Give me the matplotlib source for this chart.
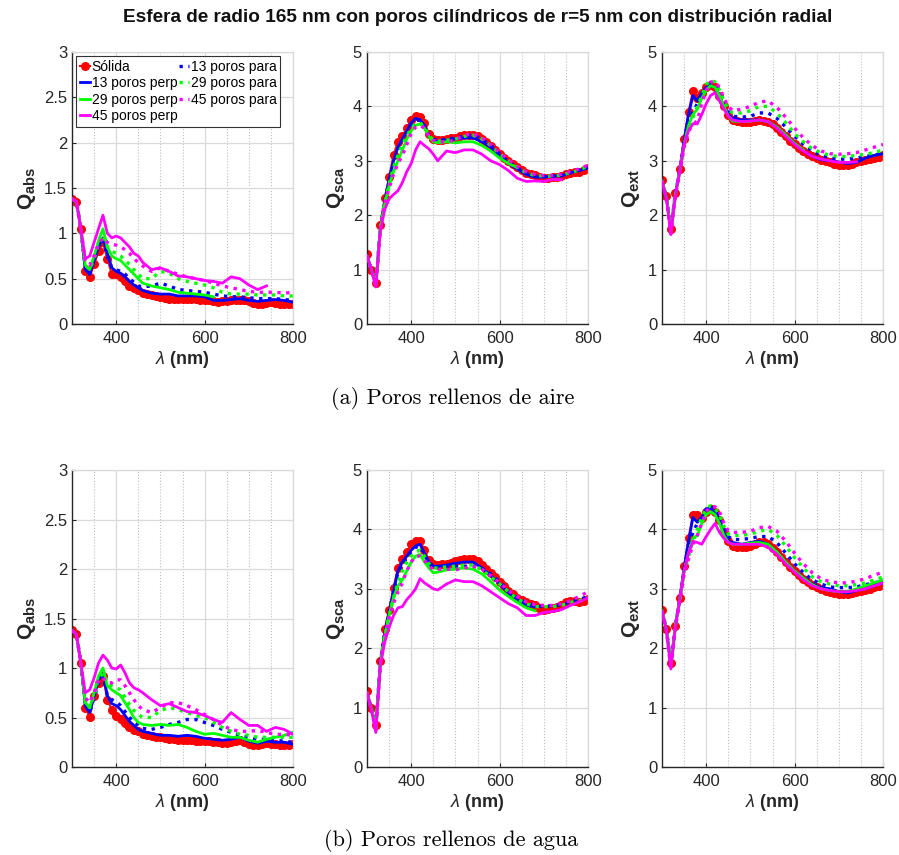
import numpy as np
import matplotlib
matplotlib.use('Agg')
import matplotlib.pyplot as plt
from matplotlib.ticker import MultipleLocator, FixedLocator, FuncFormatter

plt.rcParams['font.family'] = ['Liberation Sans', 'DejaVu Sans']
plt.rcParams['mathtext.fontset'] = 'custom'
plt.rcParams['mathtext.rm'] = 'Liberation Sans'
plt.rcParams['mathtext.bf'] = 'Liberation Sans:bold'
plt.rcParams['mathtext.it'] = 'Liberation Sans:italic'

# wavelength grid (nm) for the porous spheres: 10 nm steps up to 450, then 20 nm steps
wl = [300, 310, 320, 330, 340, 350, 360, 370, 380, 390, 400, 410, 420, 430, 440, 450,
      460, 480, 500, 520, 540, 560, 580, 600, 620, 640, 660, 680, 700, 720, 740, 760, 780, 800]
# the solid sphere is sampled every 10 nm
wl_sol = list(range(300, 801, 10))

names = ['Sólida', '13 poros para', '13 poros perp', '29 poros para',
         '29 poros perp', '45 poros para', '45 poros perp']

# ---------------- (a) pores filled with air ----------------
air_abs = {
    'Sólida': [1.38, 1.35, 1.05, 0.58, 0.52, 0.66, 0.80, 0.90, 0.72, 0.55, 0.55, 0.52, 0.47, 0.42, 0.40, 0.37,
               0.34, 0.33, 0.32, 0.31, 0.30, 0.29, 0.28, 0.28, 0.28, 0.28, 0.28, 0.28, 0.28, 0.27, 0.27,
               0.26, 0.25, 0.24, 0.25, 0.25, 0.26, 0.26, 0.26, 0.26, 0.25, 0.23, 0.22, 0.22, 0.23, 0.24,
               0.23, 0.22, 0.22, 0.22, 0.22],
    '13 poros perp': [1.38, 1.35, 1.05, 0.60, 0.55, 0.70, 0.85, 0.95, 0.78, 0.62, 0.58, 0.56, 0.52, 0.47, 0.43, 0.40,
                      0.37, 0.34, 0.33, 0.33, 0.31, 0.31, 0.31, 0.30, 0.26, 0.26, 0.27, 0.28, 0.26, 0.25, 0.26, 0.27, 0.26, 0.24],
    '13 poros para': [1.38, 1.35, 1.05, 0.62, 0.55, 0.70, 0.85, 0.92, 0.75, 0.62, 0.60, 0.58, 0.55, 0.50, 0.46, 0.42,
                      0.41, 0.42, 0.45, 0.42, 0.38, 0.37, 0.36, 0.35, 0.33, 0.31, 0.30, 0.30, 0.29, 0.28, 0.28, 0.28, 0.27, 0.26],
    '29 poros perp': [1.38, 1.35, 1.05, 0.65, 0.60, 0.75, 0.92, 1.05, 0.85, 0.75, 0.72, 0.70, 0.65, 0.60, 0.55, 0.50,
                      0.45, 0.42, 0.40, 0.38, 0.35, 0.34, 0.33, 0.32, 0.30],
    '29 poros para': [1.38, 1.35, 1.05, 0.65, 0.60, 0.72, 0.88, 0.98, 0.85, 0.80, 0.78, 0.75, 0.70, 0.66, 0.60, 0.55,
                      0.50, 0.50, 0.58, 0.56, 0.50, 0.47, 0.45, 0.43, 0.40, 0.35, 0.33, 0.33, 0.33, 0.32, 0.32, 0.32, 0.31, 0.31],
    '45 poros perp': [1.38, 1.35, 1.05, 0.72, 0.75, 0.90, 1.05, 1.20, 1.00, 0.95, 0.97, 0.95, 0.90, 0.85, 0.78, 0.75,
                      0.68, 0.60, 0.62, 0.58, 0.53, 0.52, 0.50, 0.48, 0.47, 0.45, 0.52, 0.50, 0.43, 0.38, 0.42],
    '45 poros para': [1.38, 1.35, 1.05, 0.70, 0.65, 0.75, 0.88, 0.95, 0.90, 0.88, 0.87, 0.85, 0.82, 0.78, 0.72, 0.68,
                      0.64, 0.58, 0.62, 0.58, 0.55, 0.52, 0.50, 0.48, 0.45, 0.42, 0.40, 0.38, 0.36, 0.35, 0.35, 0.35, 0.34, 0.35],
}

air_sca = {
    'Sólida': [1.28, 1.00, 0.75, 1.82, 2.32, 2.70, 3.10, 3.35, 3.45, 3.60, 3.75, 3.82, 3.80, 3.70, 3.50, 3.40,
               3.38, 3.39, 3.40, 3.41, 3.42, 3.45, 3.47, 3.48, 3.48, 3.45, 3.40, 3.35, 3.28, 3.20, 3.12,
               3.06, 3.00, 2.94, 2.88, 2.83, 2.78, 2.75, 2.73, 2.70, 2.68, 2.69, 2.70, 2.71, 2.72, 2.75,
               2.78, 2.79, 2.80, 2.83, 2.87],
    '13 poros perp': [1.25, 1.00, 0.72, 1.75, 2.25, 2.65, 3.00, 3.25, 3.40, 3.55, 3.70, 3.78, 3.75, 3.65, 3.45, 3.38,
                      3.35, 3.38, 3.40, 3.42, 3.42, 3.35, 3.25, 3.10, 2.95, 2.85, 2.75, 2.70, 2.70, 2.72, 2.72, 2.78, 2.82, 2.87],
    '13 poros para': [1.25, 1.00, 0.72, 1.75, 2.25, 2.62, 2.95, 3.20, 3.38, 3.52, 3.66, 3.74, 3.75, 3.65, 3.47, 3.40,
                      3.37, 3.40, 3.42, 3.45, 3.48, 3.40, 3.28, 3.13, 2.98, 2.87, 2.77, 2.72, 2.71, 2.72, 2.73, 2.78, 2.83, 2.88],
    '29 poros perp': [1.25, 1.00, 0.72, 1.75, 2.20, 2.55, 2.80, 3.00, 3.20, 3.40, 3.55, 3.65, 3.68, 3.60, 3.45, 3.35,
                      3.33, 3.35, 3.33, 3.35, 3.35, 3.28, 3.18, 3.05, 2.95, 2.88],
    '29 poros para': [1.25, 1.00, 0.72, 1.75, 2.22, 2.58, 2.88, 3.10, 3.30, 3.45, 3.60, 3.68, 3.70, 3.62, 3.47, 3.38,
                      3.36, 3.38, 3.40, 3.45, 3.47, 3.40, 3.28, 3.13, 3.00, 2.88, 2.78, 2.73, 2.72, 2.72, 2.74, 2.78, 2.83, 2.90],
    '45 poros perp': [1.25, 1.00, 0.68, 1.70, 2.10, 2.30, 2.38, 2.45, 2.60, 2.80, 2.95, 3.20, 3.35, 3.28, 3.22, 3.12,
                      3.00, 3.18, 3.15, 3.20, 3.20, 3.12, 3.00, 2.93, 2.82, 2.68, 2.62, 2.63, 2.62, 2.66, 2.65],
    '45 poros para': [1.25, 1.00, 0.70, 1.72, 2.20, 2.50, 2.75, 2.95, 3.10, 3.30, 3.50, 3.62, 3.65, 3.60, 3.45, 3.38,
                      3.35, 3.35, 3.38, 3.47, 3.50, 3.42, 3.30, 3.15, 3.02, 2.90, 2.80, 2.75, 2.73, 2.73, 2.75, 2.80, 2.85, 2.92],
}

air_ext = {
    'Sólida': [2.65, 2.35, 1.75, 2.40, 2.85, 3.40, 3.90, 4.28, 4.15, 4.25, 4.35, 4.40, 4.35, 4.20, 4.00, 3.85,
               3.75, 3.73, 3.72, 3.72, 3.72, 3.74, 3.75, 3.74, 3.72, 3.67, 3.60, 3.53, 3.45, 3.37, 3.30,
               3.24, 3.18, 3.13, 3.08, 3.05, 3.02, 2.99, 2.97, 2.95, 2.93, 2.92, 2.93, 2.95, 2.97, 3.00,
               3.02, 3.03, 3.05, 3.07, 3.10],
    '13 poros perp': [2.63, 2.33, 1.72, 2.38, 2.83, 3.38, 3.85, 4.20, 4.10, 4.25, 4.35, 4.38, 4.35, 4.20, 4.00, 3.85,
                      3.78, 3.75, 3.75, 3.75, 3.72, 3.62, 3.48, 3.32, 3.18, 3.08, 3.02, 3.00, 2.98, 2.95, 2.97, 3.05, 3.10, 3.13],
    '13 poros para': [2.63, 2.33, 1.72, 2.38, 2.80, 3.30, 3.70, 3.90, 4.05, 4.20, 4.35, 4.42, 4.40, 4.25, 4.05, 3.90,
                      3.82, 3.80, 3.82, 3.88, 3.88, 3.78, 3.62, 3.45, 3.30, 3.18, 3.10, 3.05, 3.03, 3.03, 3.05, 3.08, 3.10, 3.15],
    '29 poros perp': [2.63, 2.33, 1.70, 2.37, 2.80, 3.30, 3.65, 3.85, 3.95, 4.15, 4.30, 4.38, 4.35, 4.20, 4.00, 3.82,
                      3.73, 3.72, 3.73, 3.75, 3.72, 3.62, 3.48, 3.32, 3.20],
    '29 poros para': [2.63, 2.33, 1.70, 2.37, 2.80, 3.28, 3.60, 3.80, 4.00, 4.20, 4.40, 4.48, 4.45, 4.30, 4.10, 3.95,
                      3.88, 3.88, 3.92, 4.00, 4.00, 3.88, 3.70, 3.50, 3.35, 3.22, 3.15, 3.10, 3.08, 3.08, 3.10, 3.12, 3.15, 3.20],
    '45 poros perp': [2.62, 2.30, 1.65, 2.35, 2.80, 3.30, 3.55, 3.68, 3.68, 3.85, 4.05, 4.20, 4.25, 4.10, 3.95, 3.82,
                      3.75, 3.72, 3.73, 3.75, 3.72, 3.60, 3.45, 3.30, 3.18, 3.08, 3.03, 3.00, 2.97, 2.97, 2.98],
    '45 poros para': [2.62, 2.30, 1.65, 2.35, 2.78, 3.25, 3.55, 3.65, 3.75, 4.05, 4.30, 4.45, 4.45, 4.35, 4.15, 4.00,
                      3.92, 3.95, 4.00, 4.08, 4.10, 3.98, 3.80, 3.60, 3.42, 3.28, 3.18, 3.13, 3.12, 3.13, 3.15, 3.20, 3.25, 3.30],
}

# ---------------- (b) pores filled with water ----------------
wat_abs = {
    'Sólida': [1.38, 1.34, 1.05, 0.60, 0.51, 0.72, 0.85, 0.92, 0.68, 0.58, 0.52, 0.48, 0.44, 0.40, 0.37, 0.36,
               0.33, 0.32, 0.31, 0.30, 0.30, 0.29, 0.28, 0.28, 0.27, 0.27, 0.27, 0.27, 0.26, 0.26, 0.26,
               0.26, 0.25, 0.25, 0.24, 0.24, 0.25, 0.26, 0.27, 0.25, 0.23, 0.22, 0.22, 0.23, 0.24, 0.23,
               0.23, 0.22, 0.22, 0.22, 0.23],
    '13 poros perp': [1.38, 1.34, 1.05, 0.62, 0.55, 0.72, 0.88, 0.95, 0.72, 0.64, 0.62, 0.58, 0.52, 0.46, 0.42, 0.38,
                      0.36, 0.34, 0.32, 0.32, 0.31, 0.32, 0.31, 0.29, 0.28, 0.27, 0.28, 0.30, 0.26, 0.24, 0.26, 0.25, 0.25, 0.23],
    '13 poros para': [1.38, 1.34, 1.05, 0.62, 0.55, 0.70, 0.85, 0.92, 0.72, 0.68, 0.66, 0.62, 0.56, 0.50, 0.46, 0.42,
                      0.39, 0.38, 0.40, 0.43, 0.45, 0.48, 0.48, 0.45, 0.42, 0.38, 0.35, 0.32, 0.30, 0.28, 0.28, 0.27, 0.26, 0.25],
    '29 poros perp': [1.38, 1.34, 1.05, 0.65, 0.60, 0.75, 0.92, 1.00, 0.82, 0.78, 0.75, 0.72, 0.65, 0.58, 0.50, 0.45,
                      0.43, 0.42, 0.43, 0.42, 0.43, 0.40, 0.36, 0.33, 0.34, 0.32, 0.30, 0.30, 0.27, 0.25, 0.28, 0.30, 0.32, 0.35],
    '29 poros para': [1.38, 1.34, 1.05, 0.65, 0.60, 0.72, 0.88, 0.95, 0.85, 0.82, 0.80, 0.78, 0.70, 0.63, 0.57, 0.53,
                      0.50, 0.50, 0.57, 0.60, 0.58, 0.55, 0.52, 0.50, 0.45, 0.40, 0.36, 0.33, 0.32, 0.30, 0.30, 0.30, 0.30, 0.30],
    '45 poros perp': [1.38, 1.34, 1.05, 0.75, 0.78, 0.90, 1.05, 1.13, 1.08, 1.00, 0.99, 1.03, 0.95, 0.85, 0.80, 0.78,
                      0.75, 0.68, 0.62, 0.64, 0.60, 0.56, 0.55, 0.52, 0.48, 0.45, 0.55, 0.48, 0.42, 0.42, 0.36, 0.40, 0.38, 0.33],
    '45 poros para': [1.38, 1.34, 1.05, 0.70, 0.65, 0.75, 0.88, 0.90, 0.85, 0.85, 0.88, 0.88, 0.82, 0.75, 0.68, 0.62,
                      0.58, 0.55, 0.60, 0.65, 0.65, 0.62, 0.58, 0.53, 0.48, 0.42, 0.38, 0.36, 0.36, 0.37, 0.35, 0.33, 0.33, 0.32],
}

wat_sca = {
    'Sólida': [1.28, 1.00, 0.70, 1.78, 2.32, 2.65, 3.02, 3.35, 3.50, 3.62, 3.75, 3.80, 3.80, 3.65, 3.48, 3.42,
               3.40, 3.41, 3.42, 3.44, 3.47, 3.49, 3.50, 3.51, 3.50, 3.46, 3.40, 3.34, 3.27, 3.20, 3.12,
               3.05, 2.97, 2.91, 2.85, 2.81, 2.77, 2.74, 2.72, 2.68, 2.65, 2.66, 2.68, 2.70, 2.72, 2.78,
               2.80, 2.79, 2.78, 2.80, 2.83],
    '13 poros perp': [1.25, 0.98, 0.68, 1.75, 2.25, 2.60, 2.95, 3.30, 3.45, 3.55, 3.65, 3.72, 3.75, 3.60, 3.45, 3.38,
                      3.38, 3.40, 3.43, 3.45, 3.45, 3.35, 3.22, 3.08, 2.93, 2.82, 2.72, 2.70],
    '13 poros para': [1.25, 0.98, 0.68, 1.75, 2.25, 2.60, 2.95, 3.28, 3.42, 3.52, 3.62, 3.70, 3.72, 3.58, 3.42, 3.36,
                      3.36, 3.37, 3.38, 3.38, 3.38, 3.35, 3.25, 3.12, 2.97, 2.85, 2.77, 2.72, 2.70, 2.72, 2.73, 2.78, 2.82, 2.87],
    '29 poros perp': [1.25, 0.98, 0.66, 1.72, 2.20, 2.55, 2.85, 3.05, 3.15, 3.30, 3.45, 3.55, 3.58, 3.45, 3.35, 3.27,
                      3.28, 3.32, 3.33, 3.35, 3.33, 3.25, 3.12, 2.98, 2.87, 2.77, 2.68, 2.63],
    '29 poros para': [1.25, 0.98, 0.66, 1.72, 2.20, 2.55, 2.85, 3.10, 3.30, 3.45, 3.55, 3.62, 3.65, 3.55, 3.42, 3.35,
                      3.35, 3.37, 3.38, 3.40, 3.40, 3.32, 3.20, 3.08, 2.95, 2.83, 2.75, 2.70, 2.70, 2.70, 2.72, 2.77, 2.80, 2.85],
    '45 poros perp': [1.25, 0.95, 0.58, 1.70, 2.10, 2.35, 2.55, 2.68, 2.70, 2.82, 2.90, 3.00, 3.17, 3.10, 3.05, 3.00,
                      2.98, 3.08, 3.15, 3.12, 3.12, 3.05, 2.95, 2.85, 2.75, 2.68, 2.55, 2.55, 2.60, 2.62, 2.65, 2.72, 2.78, 2.85],
    '45 poros para': [1.25, 0.97, 0.62, 1.72, 2.18, 2.50, 2.75, 2.95, 3.10, 3.30, 3.45, 3.55, 3.55, 3.48, 3.38, 3.33,
                      3.33, 3.33, 3.32, 3.35, 3.38, 3.33, 3.22, 3.10, 2.97, 2.87, 2.78, 2.73, 2.72, 2.72, 2.75, 2.80, 2.87, 2.95],
}

wat_ext = {
    'Sólida': [2.65, 2.33, 1.75, 2.38, 2.85, 3.38, 3.85, 4.25, 4.25, 4.20, 4.30, 4.35, 4.30, 4.15, 3.95, 3.80,
               3.72, 3.71, 3.70, 3.71, 3.72, 3.75, 3.78, 3.78, 3.75, 3.69, 3.62, 3.54, 3.45, 3.37, 3.30,
               3.23, 3.17, 3.12, 3.07, 3.03, 3.00, 2.97, 2.95, 2.93, 2.92, 2.91, 2.92, 2.93, 2.95, 2.97,
               2.98, 3.00, 3.03, 3.05, 3.07],
    '13 poros perp': [2.63, 2.32, 1.72, 2.37, 2.83, 3.35, 3.80, 4.20, 4.12, 4.20, 4.35, 4.35, 4.30, 4.15, 3.95, 3.80,
                      3.78, 3.75, 3.78, 3.80, 3.75, 3.62, 3.45, 3.30, 3.18, 3.08, 3.02, 3.00, 2.95, 2.93, 2.97, 3.00, 3.05, 3.10],
    '13 poros para': [2.63, 2.32, 1.72, 2.37, 2.80, 3.30, 3.70, 3.95, 4.10, 4.20, 4.35, 4.38, 4.32, 4.20, 4.00, 3.88,
                      3.83, 3.83, 3.85, 3.88, 3.88, 3.78, 3.60, 3.42, 3.27, 3.15, 3.08, 3.03, 3.02, 3.02, 3.03, 3.07, 3.10, 3.13],
    '29 poros perp': [2.63, 2.32, 1.70, 2.37, 2.80, 3.30, 3.60, 3.85, 3.90, 4.10, 4.25, 4.30, 4.25, 4.10, 3.90, 3.78,
                      3.75, 3.75, 3.77, 3.78, 3.75, 3.62, 3.45, 3.30, 3.18, 3.07, 3.00, 2.97, 2.95, 2.95, 3.00, 3.05, 3.10, 3.15],
    '29 poros para': [2.63, 2.32, 1.70, 2.37, 2.80, 3.28, 3.55, 3.80, 4.00, 4.20, 4.35, 4.40, 4.35, 4.25, 4.05, 3.92,
                      3.90, 3.90, 3.92, 3.97, 4.00, 3.90, 3.72, 3.52, 3.35, 3.20, 3.12, 3.08, 3.05, 3.05, 3.07, 3.10, 3.15, 3.20],
    '45 poros perp': [2.62, 2.30, 1.65, 2.35, 2.80, 3.30, 3.60, 3.80, 3.78, 3.75, 3.88, 4.00, 4.10, 3.95, 3.85, 3.78,
                      3.75, 3.75, 3.75, 3.75, 3.70, 3.58, 3.42, 3.28, 3.15, 3.05, 3.00, 2.97, 2.95, 2.95, 2.97, 3.00, 3.05, 3.10],
    '45 poros para': [2.62, 2.30, 1.65, 2.35, 2.78, 3.25, 3.50, 3.75, 3.90, 4.10, 4.30, 4.38, 4.38, 4.30, 4.10, 3.98,
                      3.95, 3.95, 3.97, 4.03, 4.05, 3.97, 3.80, 3.60, 3.42, 3.27, 3.17, 3.12, 3.10, 3.10, 3.13, 3.17, 3.23, 3.28],
}

colors = {'13': '#0000ff', '29': '#00ff00', '45': '#ff00ff'}
grid_c = '#d9d9d9'
axis_c = '#262626'


def draw_panel(ax, data, ymax, ystep, ylab, legend=False):
    handles = {}
    for name in names:
        vals = data[name]
        if name == 'Sólida':
            h, = ax.plot(wl_sol[:len(vals)], vals, '-o', color='#ff0000', lw=1.5, ms=5.5,
                         mec='#ff0000', mfc='#ff0000', label=name, zorder=2)
        else:
            c = colors[name.split()[0]]
            ls = ':' if name.endswith('para') else '-'
            lw = 2.4 if ls == ':' else 2.0
            h, = ax.plot(wl[:len(vals)], vals, ls, color=c, lw=lw, label=name, zorder=3)
        handles[name] = h

    ax.set_xlim(300, 800)
    ax.set_ylim(0, ymax)
    ax.xaxis.set_major_locator(FixedLocator([400, 600, 800]))
    ax.xaxis.set_minor_locator(FixedLocator([350, 450, 500, 550, 650, 700, 750]))
    ax.yaxis.set_major_locator(MultipleLocator(ystep))
    ax.yaxis.set_major_formatter(FuncFormatter(lambda v, p: '%g' % v))
    ax.grid(True, which='major', color=grid_c, lw=0.9, ls='-')
    ax.grid(True, which='minor', axis='x', color='#bfbfbf', lw=0.8, ls=':')
    ax.set_axisbelow(True)
    ax.tick_params(which='both', direction='in', labelsize=12, colors=axis_c,
                   length=3, width=0.8)
    ax.tick_params(which='minor', length=0)
    ax.tick_params(axis='x', pad=5)
    for s in ['left', 'bottom']:
        ax.spines[s].set_color(axis_c)
        ax.spines[s].set_linewidth(1.0)
    for s in ['top', 'right']:
        ax.spines[s].set_color(grid_c)
        ax.spines[s].set_linewidth(0.9)
    ax.set_xlabel(r'$\mathit{\lambda}$ (nm)', fontsize=13, fontweight='bold', color=axis_c, labelpad=2)
    ax.set_ylabel(ylab, fontsize=15, color=axis_c, labelpad=4)

    if legend:
        order = ['Sólida', '13 poros perp', '29 poros perp', '45 poros perp',
                 '13 poros para', '29 poros para', '45 poros para']
        leg = ax.legend([handles[n] for n in order], order, loc='upper left',
                        bbox_to_anchor=(0.02, 0.985), ncol=2, fontsize=10,
                        handlelength=0.7, handletextpad=0.15, columnspacing=0.1,
                        borderpad=0.25, labelspacing=0.18, borderaxespad=0.0,
                        frameon=True, fancybox=False, markerscale=1.0)
        leg.get_frame().set_edgecolor('#333333')
        leg.get_frame().set_linewidth(0.8)
        leg.get_frame().set_alpha(1.0)


fig = plt.figure(figsize=(8.99, 8.55), dpi=100)

W, H = 899.0, 855.0
lefts = [72, 367, 662]
width = 221
top_row = (52, 324)
bot_row = (470, 767)

panels_a = [(air_abs, 3, 0.5, r'$\mathbf{Q}_{\mathbf{abs}}$'),
            (air_sca, 5, 1, r'$\mathbf{Q}_{\mathbf{sca}}$'),
            (air_ext, 5, 1, r'$\mathbf{Q}_{\mathbf{ext}}$')]
panels_b = [(wat_abs, 3, 0.5, r'$\mathbf{Q}_{\mathbf{abs}}$'),
            (wat_sca, 5, 1, r'$\mathbf{Q}_{\mathbf{sca}}$'),
            (wat_ext, 5, 1, r'$\mathbf{Q}_{\mathbf{ext}}$')]

for row, panels in [(top_row, panels_a), (bot_row, panels_b)]:
    for i, (data, ymax, ystep, ylab) in enumerate(panels):
        ax = fig.add_axes([lefts[i] / W, 1 - row[1] / H, width / W, (row[1] - row[0]) / H])
        draw_panel(ax, data, ymax, ystep, ylab, legend=(row is top_row and i == 0))

fig.text(0.531, 1 - 18 / H,
         'Esfera de radio 165 nm con poros cilíndricos de r=5 nm con distribución radial',
         ha='center', va='center', fontsize=13.7, fontweight='bold', color='#111111')
fig.text(0.503, 1 - 398 / H, '(a) Poros rellenos de aire', ha='center', va='center',
         fontsize=16, family=['cmr10', 'DejaVu Serif'])
fig.text(0.502, 1 - 840 / H, '(b) Poros rellenos de agua', ha='center', va='center',
         fontsize=16, family=['cmr10', 'DejaVu Serif'])

fig.savefig('out.png', dpi=100)
